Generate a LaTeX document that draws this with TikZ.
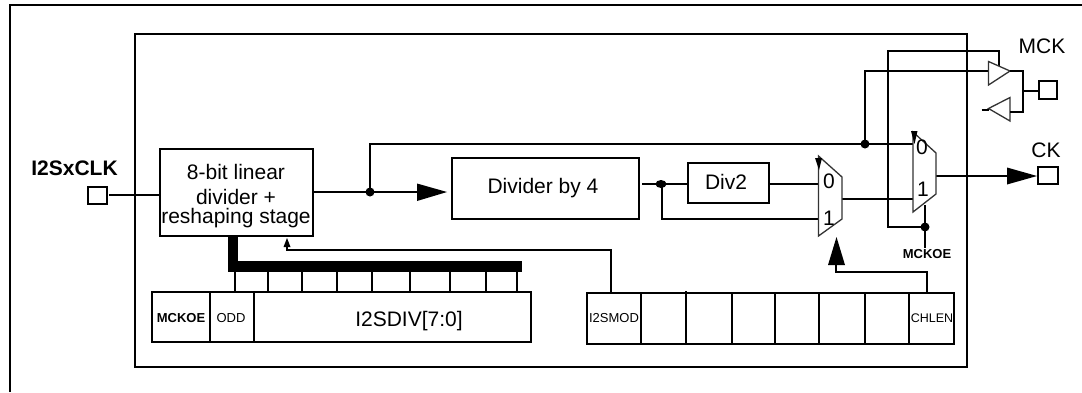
\documentclass[tikz,border=0pt]{standalone}
\usepackage{fontspec}
\setmainfont{Liberation Sans}
\usetikzlibrary{arrows.meta,shapes.geometric}
\tikzset{
  x=1pt,y=-1pt,
  wire/.style={draw=black,line width=2pt,line cap=butt},
  blk/.style={draw=black,line width=2pt,fill=white,inner sep=0pt,outer sep=0pt,anchor=north west},
  pin/.style={draw=black,line width=2pt,fill=white,inner sep=0pt,outer sep=0pt},
  dot/.style={circle,fill=black,draw=none,minimum size=9pt,inner sep=0pt},
  lab/.style={inner sep=0pt,font=\fontsize{21}{21}\selectfont},
  slab/.style={inner sep=0pt,font=\fontsize{13}{13}\selectfont},
  bsl/.style={inner sep=0pt,font=\fontsize{13}{13}\selectfont\bfseries},
  muxdraw/.style={draw=black!80,line width=1.3pt,fill=white},
}
\begin{document}
\begin{tikzpicture}
\useasboundingbox (0,0) rectangle (1082,392);
\fill[white] (0,0) rectangle (1082,392);
% frames
\draw[wire] (10,392) -- (10,5) -- (1082,5);
\node[blk,minimum width=832pt,minimum height=333pt] (chip) at (135,34) {};
% main blocks
\node[blk,minimum width=153pt,minimum height=87pt] (lin) at (160,149) {};
\node[inner sep=0pt,align=center,font=\fontsize{21}{19}\selectfont] (lintext) at (236,196) {8-bit linear\\[6pt]divider +\\reshaping stage};
\node[blk,minimum width=187pt,minimum height=61pt] (d4) at (452,158) {};
\node[lab] at (543,188) {Divider by 4};
\node[blk,minimum width=81pt,minimum height=40pt] (d2) at (688,163) {};
\node[lab] at (726,182) {Div2};
% pins
\node[pin,minimum width=19pt,minimum height=17pt] (clkpin) at (97.5,195) {};
\node[lab,font=\fontsize{21}{21}\selectfont\bfseries] (clklab) at (74.5,168) {I2SxCLK};
\node[pin,minimum width=18pt,minimum height=18pt] (mckpin) at (1047.5,90) {};
\node[lab] (mcklab) at (1042,46) {MCK};
\node[pin,minimum width=19.5pt,minimum height=17pt] (ckpin) at (1048,175) {};
\node[lab] (cklab) at (1046,150) {CK};
% registers
\node[blk,minimum width=58pt,minimum height=50pt] (rm) at (152,292) {};
\node[blk,minimum width=44pt,minimum height=50pt] (ro) at (210,292) {};
\node[blk,minimum width=277pt,minimum height=50pt] (rd) at (254,292) {};
\node[bsl] at (181,318) {MCKOE};
\node[slab] at (231,318.5) {ODD};
\node[lab] at (409,321) {I2SDIV[7:0]};
\node[blk,minimum width=54pt,minimum height=51pt] (r0) at (587,293) {};
\node[blk,minimum width=45pt,minimum height=51pt] (r1) at (641,293) {};
\node[blk,minimum width=46pt,minimum height=51pt] (r2) at (686,293) {};
\node[blk,minimum width=43pt,minimum height=51pt] (r3) at (732,293) {};
\node[blk,minimum width=44pt,minimum height=51pt] (r4) at (775,293) {};
\node[blk,minimum width=46pt,minimum height=51pt] (r5) at (819,293) {};
\node[blk,minimum width=44pt,minimum height=51pt] (r6) at (865,293) {};
\node[blk,minimum width=45pt,minimum height=51pt] (r7) at (909,293) {};
\node[slab] at (614,318) {I2SMOD};
\node[slab,font=\fontsize{12.5}{12.5}\selectfont] at (932,318) {CHLEN};
% bus
\fill[black] (228,236) rectangle (237.5,272);
\fill[black] (228,261) rectangle (522,272);
\foreach \x in {235,268,302,337,372,410,450,486,517}
  \draw[wire] (\x,272) -- (\x,292);
% wires
\coordinate (j1) at (370,192);
\coordinate (j2) at (865,144);
\coordinate (j3) at (661,184);
\coordinate (j4) at (925,227);
\draw[wire] (109,195) -- (lin.west |- clkpin);
\draw[wire] (lin.east |- j1) -- (j1);
\draw[wire] (j1) -- (430,192);
\fill (417,183.5) -- (447,192) -- (417,201) -- cycle;
\draw[wire] (j1) -- (370,144) -- (j2) -- (913,144);
\draw[wire] (642,184) -- (j3) -- (d2.west |- j3);
\draw[wire] (d2.east |- j3) -- (819,184);
\draw[wire] (662,184) -- (662,219) -- (819,219);
\draw[wire] (842,199) -- (913,199);
\draw[wire] (j2) -- (865,71) -- (989,71);
\draw[wire] (j4) -- (888,227) -- (888,51) -- (999,51) -- (999,66);
\draw[wire] (925,205) -- (925,248);
\draw[wire] (936,176) -- (1012,176);
\fill (1007,167.5) -- (1037,176) -- (1007,184.5) -- cycle;
% mux shapes
\draw[muxdraw] (818.5,156) -- (842,177) -- (842,219) -- (818.5,236) -- cycle;
\draw[muxdraw] (913,132) -- (936,153) -- (936,194) -- (913,212) -- cycle;
\node[lab] at (829,181) {0};
\node[lab] at (829,218) {1};
\node[lab] at (922,147) {0};
\node[lab] at (923,189) {1};
\fill (815,158) -- (822,158) -- (819,170) -- cycle;
\fill (911,131) -- (917.5,131) -- (914.5,144) -- cycle;
% tristate buffers
\draw[muxdraw] (988.5,61.5) -- (1010,71) -- (988.5,85) -- cycle;
\draw[muxdraw] (1010,97.5) -- (988.5,108.5) -- (1010,121) -- cycle;
\draw[wire] (1010,71) -- (1023,71) -- (1023,112) -- (1010,112);
\draw[wire] (1023,91) -- (mckpin.west |- 0,91);
\draw[wire] (981.5,110) -- (988.5,110);
% dots
\node[dot] at (j1) {};
\node[dot] at (j2) {};
\node[dot,ellipse,minimum width=11pt,minimum height=8pt] at (j3) {};
\node[dot] at (j4) {};
\node[bsl] (oe) at (927,254.5) {MCKOE};
% control arrows
\draw[wire] (611,293) -- (611,250) -- (287,250) -- (287,244);
\fill (287,238) -- (283.5,247) -- (290.5,247) -- cycle;
\draw[wire] (927,293) -- (927,272) -- (836,272) -- (836,262);
\fill (836.5,237) -- (828,265) -- (845,265) -- cycle;
\draw[line width=1.2pt] (686,293) -- (686,291);
\end{tikzpicture}
\end{document}
